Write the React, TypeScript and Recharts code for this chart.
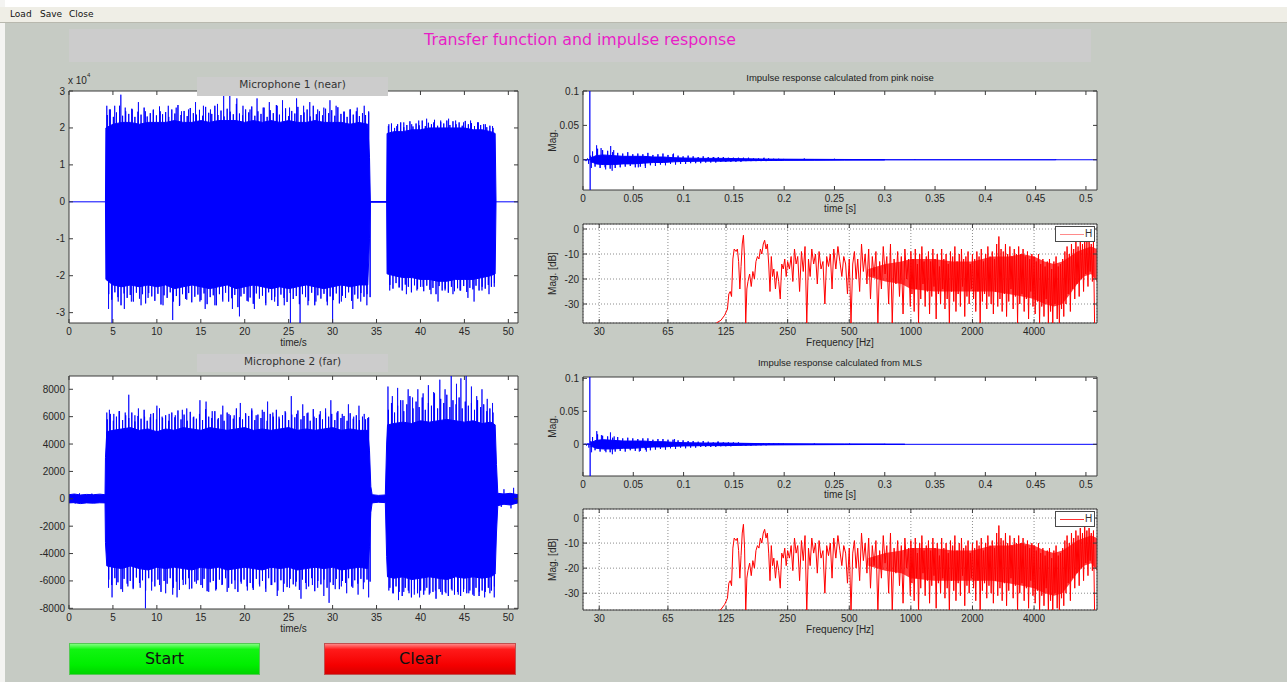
import React from 'react';
import { ComposedChart, Area, Line, XAxis, YAxis, CartesianGrid, ReferenceArea } from 'recharts';

// ---------- Microphone 1 (near), amplitude x 10^4 ----------
const nearT = [4.15, 4.2, 5, 6, 7, 8, 9, 10, 11, 12, 13, 14, 15, 16, 17, 18, 19, 20, 21, 22, 23, 24, 25, 26, 27, 28, 29, 30, 31, 32, 33, 34, 34.2, 34.3,
  36.15, 36.2, 37, 38, 39, 40, 41, 42, 43, 44, 45, 46, 47, 48, 48.5, 48.6];
const nearHi = [0, 2.0, 2.1, 2.15, 2.15, 2.1, 2.15, 2.15, 2.15, 2.2, 2.15, 2.15, 2.2, 2.15, 2.2, 2.2, 2.2, 2.15, 2.2, 2.15, 2.2, 2.15,
  2.2, 2.15, 2.15, 2.2, 2.15, 2.15, 2.15, 2.1, 2.15, 2.1, 1.2, 0,
  0, 1.85, 1.9, 1.9, 1.95, 1.95, 2.0, 2.0, 2.0, 2.0, 2.0, 1.95, 1.95, 1.9, 1.85, 0];
const nearLo = [0, -2.1, -2.25, -2.3, -2.25, -2.3, -2.25, -2.3, -2.25, -2.35, -2.3, -2.25, -2.3, -2.35, -2.3, -2.25, -2.35, -2.3, -2.25, -2.3, -2.35, -2.3,
  -2.35, -2.3, -2.25, -2.3, -2.35, -2.3, -2.25, -2.3, -2.25, -2.25, -1.0, 0,
  0, -1.95, -2.0, -2.05, -2.05, -2.1, -2.1, -2.15, -2.15, -2.1, -2.1, -2.1, -2.05, -2.0, -1.95, 0];
// dense fringe of peaks, one every 0.35 s
const nearFringeStartA = 4.35, nearFringeStartB = 36.35, fringeStep = 0.35;
const nearTopA = [2.35, 2.5, 2.3, 2.42, 2.6, 2.33, 2.45, 2.38, 2.52, 2.3, 2.44, 2.36, 2.55, 2.31, 2.4, 2.48, 2.34, 2.58, 2.37, 2.43,
  2.3, 2.5, 2.39, 2.62, 2.35, 2.46, 2.32, 2.54, 2.4, 2.36, 2.49, 2.33, 2.57, 2.41, 2.38, 2.6, 2.35, 2.47, 2.31, 2.52,
  2.44, 2.37, 2.65, 2.39, 2.34, 2.5, 2.42, 2.58, 2.33, 2.45, 2.38, 2.55, 2.3, 2.48, 2.4, 2.62, 2.36, 2.44, 2.53, 2.32,
  2.46, 2.39, 2.57, 2.35, 2.42, 2.5, 2.31, 2.6, 2.37, 2.45, 2.34, 2.52, 2.4, 2.48, 2.33, 2.56, 2.38, 2.43, 2.3, 2.5,
  2.36, 2.45, 2.32, 2.4, 2.35, 2.42];
const nearBotA = [-2.5, -2.65, -2.45, -2.58, -2.8, -2.48, -2.6, -2.52, -2.7, -2.46, -2.62, -2.5, -2.75, -2.47, -2.56, -2.68, -2.49, -2.78, -2.53, -2.6,
  -2.45, -2.7, -2.55, -2.82, -2.5, -2.63, -2.47, -2.72, -2.57, -2.51, -2.66, -2.48, -2.77, -2.58, -2.53, -2.8, -2.5, -2.64, -2.46, -2.7,
  -2.61, -2.52, -2.85, -2.56, -2.49, -2.68, -2.59, -2.76, -2.48, -2.62, -2.54, -2.74, -2.45, -2.66, -2.57, -2.82, -2.51, -2.6, -2.71, -2.47,
  -2.63, -2.55, -2.77, -2.5, -2.58, -2.68, -2.46, -2.8, -2.53, -2.62, -2.49, -2.7, -2.56, -2.66, -2.48, -2.75, -2.54, -2.6, -2.45, -2.68,
  -2.51, -2.62, -2.47, -2.57, -2.5, -2.58];
const nearTopB = [2.05, 2.12, 2.0, 2.1, 2.15, 2.02, 2.08, 2.18, 2.04, 2.12, 2.07, 2.2, 2.05, 2.14, 2.1, 2.22, 2.06, 2.16, 2.12, 2.2,
  2.08, 2.18, 2.1, 2.15, 2.06, 2.19, 2.1, 2.13, 2.05, 2.15, 2.08, 2.1, 2.02, 2.06, 2.0];
const nearBotB = [-2.25, -2.35, -2.2, -2.32, -2.4, -2.24, -2.3, -2.45, -2.26, -2.36, -2.3, -2.42, -2.27, -2.38, -2.33, -2.5, -2.28, -2.4, -2.35, -2.46,
  -2.3, -2.42, -2.34, -2.4, -2.28, -2.44, -2.33, -2.37, -2.27, -2.4, -2.3, -2.35, -2.25, -2.3, -2.2];
const nearSpikes: [number, number][] = [
  [4.3, 2.6], [4.6, 2.5], [5.2, 2.6], [5.9, 2.9], [6.4, 2.55], [7.2, 2.5], [7.9, 2.7], [8.7, 2.45], [9.6, 2.5], [10.4, 2.45],
  [11.3, 2.6], [12.2, 2.55], [12.8, 2.45], [13.6, 2.5], [14.4, 2.7], [15.3, 2.6], [16.1, 2.5], [16.9, 2.65], [17.6, 3.0], [18.3, 2.9],
  [19.1, 2.8], [19.8, 2.6], [20.6, 2.5], [21.4, 2.8], [22.1, 2.55], [22.8, 2.7], [23.7, 2.6], [24.3, 2.75], [25.1, 2.55], [25.9, 2.8],
  [26.7, 2.6], [27.4, 2.7], [28.3, 2.5], [29.0, 2.55], [29.7, 2.75], [30.4, 2.6], [31.3, 2.45], [32.0, 2.5], [32.8, 2.55], [33.6, 2.6], [34.1, 2.45],
  [36.4, 2.1], [37.3, 2.05], [38.1, 2.15], [39.0, 2.1], [39.8, 2.2], [40.7, 2.25], [41.5, 2.15], [42.3, 2.2], [43.2, 2.25], [44.0, 2.2],
  [44.9, 2.15], [45.7, 2.2], [46.6, 2.15], [47.4, 2.1], [48.2, 2.05],
  [4.5, -2.9], [4.9, -3.3], [5.6, -2.7], [6.3, -2.9], [7.1, -2.7], [8.2, -2.8], [9.0, -2.6], [10.7, -2.8], [11.8, -3.2], [12.6, -2.8],
  [13.4, -2.65], [14.9, -2.7], [15.5, -2.9], [16.6, -2.8], [17.5, -2.7], [18.6, -2.9], [19.4, -3.1], [20.4, -2.7], [21.1, -2.9], [22.4, -2.8],
  [23.4, -2.7], [24.5, -2.8], [25.2, -3.3], [26.3, -3.3], [27.2, -2.8], [28.1, -2.7], [29.4, -2.8], [30.0, -3.3], [31.0, -2.7], [32.3, -2.9],
  [33.2, -2.7], [33.9, -2.8], [36.5, -2.4], [37.6, -2.3], [38.4, -2.5], [39.6, -2.4], [40.3, -2.3], [41.2, -2.5], [42.0, -2.7], [42.8, -2.4],
  [43.7, -2.5], [44.5, -2.4], [45.4, -2.6], [46.1, -2.7], [47.0, -2.4], [47.8, -2.5], [48.4, -2.3],
];

// ---------- Microphone 2 (far) ----------
const farT = [0, 0.6, 1.3, 2.0, 2.8, 3.5, 4.1, 4.15, 4.3,
  5, 6, 7, 8, 9, 10, 11, 12, 13, 14, 15, 16, 17, 18, 19, 20, 21, 22, 23, 24, 25, 26, 27, 28, 29, 30, 31, 32, 33, 34,
  34.2, 34.35, 34.5, 35.2, 36.0, 36.15, 36.25, 37, 38, 39, 40, 41, 42, 43, 44, 45, 46, 47, 48, 48.5, 48.65, 48.8, 49.5, 50.2, 51.1];
const farHi = [300, 350, 280, 320, 300, 340, 300, 3000, 4900,
  5000, 5100, 5200, 5000, 5100, 4900, 5100, 5000, 5200, 5100, 5000, 5200, 5100, 5000, 5100, 5200, 5000, 5100, 5000, 5100,
  5200, 5000, 5100, 5000, 5100, 5200, 5000, 5100, 5000, 5000,
  3500, 900, 300, 250, 280, 4000, 5400, 5500, 5600, 5500, 5700, 5600, 5700, 5800, 5700, 5600, 5700, 5500, 5600, 5400, 2500, 400, 350, 400, 300];
const farLo = [-300, -280, -350, -300, -320, -290, -300, -3200, -4900,
  -5000, -5100, -4900, -5100, -5200, -5000, -5100, -5000, -5100, -5200, -5000, -5100, -5000, -5200, -5100, -5000, -5100, -5200, -5000, -5100,
  -5000, -5200, -5100, -5000, -5100, -5000, -5200, -5100, -5000, -5100,
  -3500, -1000, -300, -250, -280, -4200, -5700, -5800, -5700, -5900, -5800, -5700, -5800, -5900, -5700, -5800, -5700, -5800, -5700, -5500, -2500, -500, -400, -450, -300];
const farTopA = [5800, 6200, 5700, 6000, 6400, 5750, 6100, 5900, 6300, 5650, 6050, 5850, 6500, 5700, 5950, 6250, 5800, 6600, 5900, 6100,
  5700, 6300, 5950, 6450, 5800, 6150, 5700, 6350, 5950, 5850, 6200, 5750, 6550, 6000, 5900, 6400, 5800, 6150, 5700, 6300,
  6100, 5850, 6600, 5950, 5800, 6250, 6050, 6450, 5750, 6150, 5900, 6350, 5700, 6200, 6000, 6500, 5850, 6100, 6300, 5750,
  6150, 5950, 6450, 5800, 6050, 6250, 5700, 6550, 5900, 6150, 5800, 6300, 6000, 6200, 5750, 6400, 5900, 6050, 5700, 6250,
  5850, 6100, 5750, 6000, 5800, 5950];
const farBotA = [-5900, -6300, -5800, -6100, -6600, -5850, -6200, -6000, -6500, -5750, -6150, -5950, -6700, -5800, -6050, -6400, -5900, -6800, -6000, -6200,
  -5800, -6500, -6050, -6650, -5900, -6250, -5800, -6550, -6050, -5950, -6300, -5850, -6750, -6100, -6000, -6600, -5900, -6250, -5800, -6500,
  -6200, -5950, -6800, -6050, -5900, -6400, -6150, -6650, -5850, -6250, -6000, -6550, -5800, -6300, -6100, -6700, -5950, -6200, -6450, -5850,
  -6250, -6050, -6650, -5900, -6150, -6400, -5800, -6750, -6000, -6250, -5900, -6500, -6100, -6300, -5850, -6600, -6000, -6150, -5800, -6400,
  -5950, -6200, -5850, -6100, -5900, -6050];
const farTopB = [6500, 7000, 6300, 6800, 7200, 6400, 6900, 7500, 6600, 7100, 6700, 7400, 6500, 7000, 6800, 7700, 6600, 7300, 7000, 7600,
  6700, 7200, 6900, 7400, 6600, 7100, 6800, 7000, 6500, 7200, 6700, 6900, 6400, 6600, 6300];
const farBotB = [-6500, -6900, -6400, -6800, -7100, -6500, -6700, -7200, -6600, -6900, -6700, -7000, -6500, -6900, -6800, -7300, -6600, -7000, -6800, -7100,
  -6600, -7000, -6800, -7100, -6600, -6900, -6700, -7000, -6500, -7100, -6700, -6800, -6500, -6700, -6400];
const farSpikes: [number, number][] = [
  [1.2, 400], [2.6, 380], [0.7, -350], [49.5, 700], [50.6, 800], [49.2, -600], [50.3, -700],
  [4.3, 6300], [4.6, 6500], [5.1, 6200], [5.7, 6400], [6.4, 6300], [6.8, 7600], [7.5, 6100], [7.9, 6600], [8.6, 6000], [9.3, 6200],
  [10.0, 6800], [10.6, 6000], [11.4, 6200], [12.1, 6100], [12.9, 6500], [13.4, 6600], [14.2, 6000], [14.9, 7200], [15.6, 7100], [16.3, 6400],
  [17.0, 5900], [17.5, 6800], [18.2, 6200], [18.8, 6100], [19.5, 7000], [20.1, 6200], [20.8, 6600], [21.3, 6100], [22.0, 6500], [22.6, 7100],
  [23.2, 6300], [23.9, 6000], [24.6, 6400], [25.3, 7500], [25.9, 6200], [26.6, 6900], [27.2, 6300], [27.9, 6000], [28.6, 6400], [29.2, 6600],
  [29.8, 7200], [30.5, 6300], [31.1, 6200], [31.8, 6900], [32.4, 6000], [33.0, 6800], [33.6, 6200], [34.0, 5900],
  [36.3, 8200], [36.8, 7500], [37.4, 8100], [38.0, 7200], [38.6, 8000], [39.1, 7400], [39.7, 8000], [40.3, 7700], [40.9, 8300], [41.5, 7800],
  [42.2, 8700], [42.8, 8000], [43.5, 9000], [44.1, 8400], [44.6, 8800], [45.2, 9000], [45.8, 8200], [46.4, 7500], [47.0, 8000], [47.6, 7300], [48.2, 7000],
  [4.5, -6500], [4.9, -7200], [5.4, -6300], [6.1, -6800], [6.7, -6400], [7.3, -6600], [8.1, -6500], [8.7, -8000], [9.4, -6700], [10.3, -6300],
  [11.0, -6900], [11.8, -7000], [12.3, -7200], [13.0, -6300], [13.7, -6600], [14.5, -6200], [15.2, -6500], [15.9, -6800], [16.7, -6700], [17.4, -6300],
  [18.0, -6800], [18.9, -6600], [19.6, -6200], [20.3, -6700], [20.9, -6500], [21.7, -6400], [22.4, -6800], [23.0, -6300], [23.7, -7100], [24.4, -6800],
  [25.1, -6500], [25.8, -6400], [26.4, -7300], [27.0, -6600], [27.7, -6300], [28.3, -6500], [29.0, -7100], [29.6, -7600], [30.3, -6600], [31.0, -6400],
  [31.6, -6900], [32.3, -6500], [32.9, -7000], [33.5, -6600], [34.1, -7200],
  [36.4, -6700], [36.9, -6900], [37.5, -7400], [38.1, -6800], [38.7, -6900], [39.3, -7000], [39.9, -7200], [40.5, -6700], [41.0, -7000], [41.7, -6700],
  [42.3, -6800], [42.9, -6900], [43.6, -6700], [44.3, -7000], [44.9, -6800], [45.5, -6900], [46.1, -7100], [46.7, -6800], [47.3, -7200], [47.9, -6900], [48.4, -7200],
];

// ---------- Impulse responses ----------
const irPinkT = [0.0075, 0.01, 0.013, 0.02, 0.03, 0.04, 0.05, 0.06, 0.07, 0.08, 0.09, 0.1, 0.12, 0.14, 0.16, 0.18, 0.2, 0.23, 0.26, 0.3];
const irPinkHi = [0.003, 0.004, 0.006, 0.007, 0.006, 0.005, 0.005, 0.005, 0.004, 0.004, 0.003, 0.0025, 0.002, 0.002, 0.0015, 0.001, 0.0008, 0.0006, 0.0004, 0.0002];
const irPinkLo = [-0.003, -0.004, -0.006, -0.007, -0.007, -0.006, -0.006, -0.005, -0.004, -0.004, -0.003, -0.0025, -0.002, -0.002, -0.0015, -0.001, -0.0008, -0.0006, -0.0004, -0.0002];
// peaks every 2.5 ms from 9.5 ms
const irFringeStart = 0.0095, irFringeStep = 0.0025;
const irPinkFringe = [0.012, -0.01, 0.016, -0.012, 0.014, -0.011, 0.013, -0.013, 0.011, -0.012, 0.01, -0.011, 0.009, -0.01, 0.011, -0.009,
  0.008, -0.011, 0.009, -0.01, 0.008, -0.009, 0.01, -0.008, 0.007, -0.009, 0.008, -0.007, 0.009, -0.008, 0.007, -0.006, 0.008, -0.007,
  0.006, -0.006, 0.005, -0.006, 0.006, -0.005, 0.005, -0.005, 0.004, -0.005, 0.005, -0.004, 0.004, -0.004, 0.004, -0.004, 0.004, -0.003,
  0.004, -0.003, 0.003, -0.003, 0.003, -0.003, 0.003, -0.003, 0.003, -0.002, 0.003, -0.002, 0.002, -0.002, 0.002, -0.002, 0.002, -0.002,
  0.002, -0.0015, 0.0015, -0.0015, 0.0015, -0.001, 0.0012];
const irPinkSpikes: [number, number][] = [
  [0.0015, 0.001], [0.003, -0.002], [0.0045, 0.002], [0.0055, -0.006], [0.0068, 0.12], [0.0071, -0.044], [0.0076, 0.006], [0.0083, -0.012],
  [0.0135, 0.021], [0.018, 0.017], [0.0225, -0.014], [0.0275, 0.02], [0.029, -0.016], [0.0305, 0.014], [0.055, -0.011], [0.062, -0.012],
  [0.09, 0.009], [0.13, 0.004], [0.18, 0.003], [0.22, 0.002], [0.25, 0.0015], [0.28, 0.001], [0.33, 0.0008], [0.47, 0.0009],
];
const irMlsT = [0.0075, 0.01, 0.013, 0.02, 0.03, 0.04, 0.05, 0.06, 0.07, 0.08, 0.09, 0.1, 0.12, 0.14, 0.16, 0.18, 0.2, 0.23, 0.26, 0.3, 0.32];
const irMlsHi = [0.003, 0.004, 0.006, 0.007, 0.006, 0.005, 0.005, 0.005, 0.004, 0.004, 0.003, 0.0025, 0.002, 0.002, 0.0015, 0.001, 0.0008, 0.0006, 0.0004, 0.0002, 0];
const irMlsLo = [-0.003, -0.004, -0.006, -0.007, -0.007, -0.006, -0.006, -0.005, -0.004, -0.004, -0.003, -0.0025, -0.002, -0.002, -0.0015, -0.001, -0.0008, -0.0006, -0.0004, -0.0002, 0];
const irMlsFringe = [0.011, -0.009, 0.015, -0.011, 0.013, -0.01, 0.012, -0.012, 0.01, -0.011, 0.011, -0.01, 0.009, -0.011, 0.01, -0.009,
  0.009, -0.01, 0.008, -0.01, 0.009, -0.008, 0.009, -0.009, 0.007, -0.008, 0.008, -0.007, 0.008, -0.008, 0.007, -0.006, 0.007, -0.007,
  0.006, -0.005, 0.006, -0.006, 0.005, -0.005, 0.005, -0.005, 0.004, -0.004, 0.005, -0.004, 0.004, -0.004, 0.003, -0.004, 0.004, -0.003,
  0.003, -0.003, 0.003, -0.003, 0.003, -0.002, 0.003, -0.002, 0.002, -0.002, 0.002, -0.002, 0.002, -0.0015, 0.002, -0.0015, 0.0015, -0.0015,
  0.0015, -0.001, 0.0012, -0.001, 0.001, -0.001, 0.001];
const irMlsSpikes: [number, number][] = [
  [0.002, 0.001], [0.0035, -0.002], [0.005, 0.002], [0.0058, -0.005], [0.0068, 0.12], [0.0071, -0.048], [0.0077, 0.005], [0.0085, -0.012],
  [0.0137, 0.02], [0.0183, 0.014], [0.0228, -0.012], [0.0273, 0.018], [0.0292, -0.015], [0.031, 0.012], [0.056, -0.011], [0.063, -0.011],
  [0.091, 0.008], [0.134, 0.004], [0.185, 0.002], [0.23, 0.0015], [0.265, 0.0012], [0.3, 0.0008],
];

// ---------- Transfer function H (dB over Hz) ----------
const hLow: [number, number][] = [
  [112, -37.6], [118, -36.5], [123, -34.5], [127, -32], [129, -26], [131, -25], [133, -27], [135, -12], [137, -8], [140, -9], [142, -8],
  [144, -13], [146, -24], [148, -15], [150, -6], [152, -2.5], [154, -12], [156, -37.6], [158, -24], [160, -21], [163, -18], [166, -23],
  [169, -17], [172, -20], [175, -13], [178, -11], [181, -12], [184, -8], [187, -10], [190, -6], [193, -4.5], [196, -8], [199, -6],
  [202, -14], [205, -25], [208, -11], [211, -19], [214, -16], [218, -24], [222, -17], [226, -21], [230, -28], [234, -14], [238, -16],
  [242, -12], [246, -19], [250, -13], [255, -16], [260, -11], [265, -21], [270, -8], [275, -14], [280, -11], [286, -25], [292, -9],
  [298, -17], [304, -7], [310, -37.6], [316, -12], [322, -19], [328, -8], [335, -14], [342, -10], [349, -22], [356, -9], [364, -16],
  [372, -13], [380, -30], [388, -11], [396, -15], [404, -10], [412, -24], [420, -8], [430, -16], [440, -7], [450, -13], [460, -19],
  [470, -11], [480, -14], [490, -26], [500, -12],
  [510, -37.6], [520, -14], [530, -9], [540, -20], [550, -12], [562, -25], [574, -6], [586, -17], [598, -10], [610, -22], [622, -8],
  [635, -28], [648, -11], [661, -19], [675, -9], [690, -37.6], [704, -13], [718, -24], [733, -7], [748, -18], [763, -11], [779, -30],
  [795, -6], [811, -37.6], [828, -12], [845, -22], [862, -9], [880, -27], [898, -11], [916, -34], [935, -8], [954, -20], [974, -12], [994, -31],
];
// from 1 kHz upward: 56 bins per octave
const hHighStart = 1000, hHighPerOct = 56;
const hHighDb = [
  -9, -26, -12, -33, -8, -24, -14, -37.6, -10, -28, -7, -22, -13, -31,
  -11, -25, -9, -34, -13, -27, -8, -23, -12, -36, -10, -26, -15, -30,
  -8, -24, -12, -32, -10, -28, -14, -37.6, -9, -25, -11, -29, -7, -33,
  -13, -26, -10, -31, -8, -23, -12, -35, -11, -27, -9, -30, -14, -24,
  -10, -28, -12, -33, -9, -25, -11, -37.6, -8, -29, -13, -26, -10, -32,
  -7, -27, -11, -30, -9, -34, -12, -25, -6, -31, -3, -28, -8, -33,
  -9, -26, -6, -35, -10, -29, -7, -24, -11, -32, -8, -27, -10, -37.6,
  -7, -30, -10, -26, -8, -33, -11, -28, -9, -36, -12, -25, -10, -31,
  -11, -34, -13, -29, -10, -37.6, -14, -31, -12, -35, -15, -28, -13, -37.6,
  -12, -33, -16, -37.6, -13, -30, -11, -36, -15, -37.6, -14, -32, -12, -35,
  -9, -30, -7, -26, -10, -33, -6, -24, -8, -28, -5, -22, -7, -27,
  -4, -20, -6, -25, -3, -18, -5, -23, -4, -17, -6, -21, -5, -37.6,
];
// densely filled part of the spectrum
const hCoreF = [620, 750, 900, 1000, 1300, 1600, 2000, 2500, 3000, 3500, 4000, 4500, 5000, 5500, 6000, 6500, 7000, 7600, 8120];
const hCoreHi = [-16, -14, -13, -12, -12, -13, -13, -11, -11, -10, -11, -13, -14, -13, -11, -9, -8, -7, -8];
const hCoreLo = [-19, -21, -22, -24, -25, -25, -25, -25, -26, -27, -28, -30, -31, -30, -26, -22, -19, -18, -21];

const secTicks = [0, 5, 10, 15, 20, 25, 30, 35, 40, 45, 50];
const irTicks = [0, 0.05, 0.1, 0.15, 0.2, 0.25, 0.3, 0.35, 0.4, 0.45, 0.5];
const hzTicks = [30, 65, 125, 250, 500, 1000, 2000, 4000];
const nearYTicks = [-3, -2, -1, 0, 1, 2, 3];
const farYTicks = [-8000, -6000, -4000, -2000, 0, 2000, 4000, 6000, 8000];
const irYTicks = [0, 0.05, 0.1];
const dbTicks = [-30, -20, -10, 0];

// ---------- helpers ----------
type Box = { x: number; y: number; w: number; h: number };
const ML = 56, MT = 10, MR = 10, XH = 36;
const AX = '#3a3a3a';
const TXT = '#262626';
const AXFONT = '"Liberation Sans", Arial, sans-serif';
const UIFONT = '"DejaVu Sans", sans-serif';
const BLUE = '#0000ff';
const RED = '#ff0000';

const band = (t: number[], lo: number[], hi: number[]) => t.map((x, i) => ({ t: x, r: [lo[i], hi[i]] }));
const spikes = (s: [number, number][]) =>
  [...s].sort((a, b) => a[0] - b[0]).flatMap(([t, v]) => [{ t, v: 0 }, { t, v }, { t, v: 0 }]);
const onGrid = (start: number, step: number, vals: number[]): [number, number][] => vals.map((v, i) => [start + i * step, v]);
const pairs = (s: [number, number][]) => s.map(([t, v]) => ({ t, v }));

const nearFringe = [
  ...onGrid(nearFringeStartA, fringeStep, nearTopA), ...onGrid(nearFringeStartA + 0.17, fringeStep, nearBotA),
  ...onGrid(nearFringeStartB, fringeStep, nearTopB), ...onGrid(nearFringeStartB + 0.17, fringeStep, nearBotB),
];
const farFringe = [
  ...onGrid(nearFringeStartA, fringeStep, farTopA), ...onGrid(nearFringeStartA + 0.17, fringeStep, farBotA),
  ...onGrid(nearFringeStartB, fringeStep, farTopB), ...onGrid(nearFringeStartB + 0.17, fringeStep, farBotB),
];
const hHigh: [number, number][] = hHighDb.map((v, i) => [hHighStart * 2 ** (i / hHighPerOct), v]);
const hAll = pairs([...hLow, ...hHigh]);

const makeXTick = (box: Box) => (p: any) => (
  <g>
    <line x1={p.x} x2={p.x} y1={MT + box.h} y2={MT + box.h - 4} stroke={AX} />
    <line x1={p.x} x2={p.x} y1={MT} y2={MT + 4} stroke={AX} />
    <text x={p.x} y={MT + box.h + 12} textAnchor="middle" fontSize={10} fill={TXT} fontFamily={AXFONT}>
      {String(p.payload.value)}
    </text>
  </g>
);
const makeYTick = (box: Box) => (p: any) => (
  <g>
    <line x1={ML} x2={ML + 4} y1={p.y} y2={p.y} stroke={AX} />
    <line x1={ML + box.w - 4} x2={ML + box.w} y1={p.y} y2={p.y} stroke={AX} />
    <text x={ML - 4} y={p.y + 3.5} textAnchor="end" fontSize={10} fill={TXT} fontFamily={AXFONT}>
      {String(p.payload.value)}
    </text>
  </g>
);

const XTitle = ({ viewBox, text, dy }: any) =>
  viewBox ? (
    <text x={viewBox.x + viewBox.width / 2} y={viewBox.y + dy} textAnchor="middle" fontSize={10} fill={TXT} fontFamily={AXFONT}>
      {text}
    </text>
  ) : null;
const YTitle = ({ viewBox, text }: any) => {
  if (!viewBox) return null;
  const cx = viewBox.x + viewBox.width - 27;
  const cy = viewBox.y + viewBox.height / 2;
  return (
    <text x={cx} y={cy} transform={`rotate(-90 ${cx} ${cy})`} textAnchor="middle" fontSize={10} fill={TXT} fontFamily={AXFONT}>
      {text}
    </text>
  );
};

interface PlotProps {
  box: Box;
  xDomain: [number, number];
  yDomain: [number, number];
  xTicks: number[];
  yTicks: number[];
  xLog?: boolean;
  grid?: boolean;
  xLabel: string;
  xLabelDy: number;
  yLabel?: string;
  children: React.ReactNode;
}

const Plot: React.FC<PlotProps> = ({ box, xDomain, yDomain, xTicks, yTicks, xLog, grid, xLabel, xLabelDy, yLabel, children }) => (
  <div style={{ position: 'absolute', left: box.x - ML, top: box.y - MT }}>
    <ComposedChart width={box.w + ML + MR} height={box.h + MT + XH} margin={{ top: MT, right: MR, bottom: 0, left: 0 }}>
      <CartesianGrid fill="#ffffff" horizontal={!!grid} vertical={!!grid} stroke="#8c8c8c" strokeDasharray="1 2" />
      <XAxis dataKey="t" type="number" scale={xLog ? 'log' : 'linear'} domain={xDomain} ticks={xTicks} interval={0}
        allowDataOverflow height={XH} tickSize={0} tickMargin={0} axisLine={false} tickLine={false} tick={makeXTick(box)}
        label={<XTitle text={xLabel} dy={xLabelDy} />} />
      <YAxis type="number" domain={yDomain} ticks={yTicks} interval={0} allowDataOverflow width={ML} tickSize={0} tickMargin={0}
        axisLine={false} tickLine={false} tick={makeYTick(box)} label={yLabel ? <YTitle text={yLabel} /> : undefined} />
      {children}
      <ReferenceArea x1={xDomain[0]} x2={xDomain[1]} y1={yDomain[0]} y2={yDomain[1]} fill="none" stroke={AX} strokeWidth={1} ifOverflow="visible" />
    </ComposedChart>
  </div>
);

const nearBox: Box = { x: 69, y: 91, w: 449, h: 232 };
const farBox: Box = { x: 69, y: 376, w: 449, h: 233 };
const irPinkBox: Box = { x: 583, y: 91, w: 514, h: 99 };
const hPinkBox: Box = { x: 583, y: 224, w: 514, h: 99 };
const irMlsBox: Box = { x: 583, y: 377, w: 514, h: 99 };
const hMlsBox: Box = { x: 583, y: 509, w: 514, h: 101 };

const gray = '#cccccc';

const HLegend: React.FC<{ left: number; top: number; color: string }> = ({ left, top, color }) => (
  <div style={{ position: 'absolute', left, top, width: 40, height: 16, background: '#fff', border: '1px solid #4a4a4a', boxSizing: 'border-box' }}>
    <div style={{ position: 'absolute', left: 4, top: 7, width: 24, height: 1, background: color }} />
    <div style={{ position: 'absolute', left: 29, top: 1, fontSize: 10, fontFamily: AXFONT, color: '#333' }}>H</div>
  </div>
);

const wave = (core: any[], fringe: any[], sp: any[], xmax: number) => [
  <Line key="zero" data={[{ t: 0, v: 0 }, { t: xmax, v: 0 }]} dataKey="v" stroke={BLUE} strokeWidth={1} dot={false} activeDot={false} isAnimationActive={false} />,
  <Area key="core" data={core} dataKey="r" type="linear" stroke={BLUE} strokeWidth={1} fill={BLUE} fillOpacity={1} dot={false} activeDot={false} isAnimationActive={false} />,
  <Line key="fringe" data={fringe} dataKey="v" stroke={BLUE} strokeWidth={1} dot={false} activeDot={false} isAnimationActive={false} />,
  <Line key="spk" data={sp} dataKey="v" stroke={BLUE} strokeOpacity={0.8} strokeWidth={1} dot={false} activeDot={false} isAnimationActive={false} />,
];

const freq = () => [
  <Area key="core" data={band(hCoreF, hCoreLo, hCoreHi)} dataKey="r" type="linear" stroke="none" fill={RED} fillOpacity={0.75} dot={false} activeDot={false} isAnimationActive={false} />,
  <Line key="h" data={hAll} dataKey="v" stroke={RED} strokeWidth={1} dot={false} activeDot={false} isAnimationActive={false} />,
];

export default function App() {
  return (
    <div style={{ position: 'absolute', left: 0, top: 0, width: 1287, height: 682, background: '#c6cbc4', overflow: 'hidden', fontFamily: UIFONT }}>
      <div style={{ position: 'absolute', left: 0, top: 0, width: 1287, height: 7, background: '#ffffff' }} />
      <div style={{ position: 'absolute', left: 0, top: 0, width: 5, height: 682, background: '#f4f4f2' }} />
      <div style={{ position: 'absolute', left: 0, top: 7, width: 1287, height: 15, background: '#efeee6', borderBottom: '1px solid #b8b8ae' }}>
        {['Load', 'Save', 'Close'].map((m, i) => (
          <span key={m} style={{ position: 'absolute', left: [10, 40, 69][i], top: 2, fontSize: 9, color: '#111' }}>{m}</span>
        ))}
      </div>

      <div style={{ position: 'absolute', left: 69, top: 29, width: 1022, height: 33, background: gray, textAlign: 'center' }}>
        <div style={{ marginTop: 1, fontSize: 15.8, color: '#e81ec6' }}>Transfer function and impulse response</div>
      </div>

      <Plot box={nearBox} xDomain={[0, 51.1]} yDomain={[-3.28, 3]} xTicks={secTicks} yTicks={nearYTicks} xLabel="time/s" xLabelDy={22.5}>
        {wave(band(nearT, nearLo, nearHi), spikes(nearFringe), spikes(nearSpikes), 51.1)}
      </Plot>
      <div style={{ position: 'absolute', left: 68, top: 75, fontSize: 10, fontFamily: AXFONT, color: TXT }}>
        x 10<sup style={{ fontSize: 6, verticalAlign: 'top', position: 'relative', top: -3 }}>4</sup>
      </div>
      <div style={{ position: 'absolute', left: 197, top: 77, width: 191, height: 19, background: gray, textAlign: 'center', fontSize: 10.5, lineHeight: '15px', color: '#333' }}>
        Microphone 1 (near)
      </div>

      <Plot box={farBox} xDomain={[0, 51.1]} yDomain={[-8050, 8970]} xTicks={secTicks} yTicks={farYTicks} xLabel="time/s" xLabelDy={22.5}>
        {wave(band(farT, farLo, farHi), spikes(farFringe), spikes(farSpikes), 51.1)}
      </Plot>
      <div style={{ position: 'absolute', left: 197, top: 354, width: 191, height: 18, background: gray, textAlign: 'center', fontSize: 10.5, lineHeight: '15px', color: '#333' }}>
        Microphone 2 (far)
      </div>

      <div style={{ position: 'absolute', left: 583, top: 72, width: 514, textAlign: 'center', fontSize: 9.5, fontFamily: AXFONT, color: '#222' }}>
        Impulse response calculated from pink noise
      </div>
      <Plot box={irPinkBox} xDomain={[0, 0.511]} yDomain={[-0.044, 0.1]} xTicks={irTicks} yTicks={irYTicks} xLabel="time [s]" xLabelDy={22} yLabel="Mag.">
        {wave(band(irPinkT, irPinkLo, irPinkHi), spikes(onGrid(irFringeStart, irFringeStep, irPinkFringe)), spikes(irPinkSpikes), 0.511)}
      </Plot>

      <Plot box={hPinkBox} xDomain={[25, 8120]} yDomain={[-37.6, 2]} xTicks={hzTicks} yTicks={dbTicks} xLog grid xLabel="Frequency [Hz]" xLabelDy={22.5} yLabel="Mag. [dB]">
        {freq()}
      </Plot>
      <HLegend left={1055} top={226} color="#ff8a8a" />

      <div style={{ position: 'absolute', left: 583, top: 357, width: 514, textAlign: 'center', fontSize: 9.5, fontFamily: AXFONT, color: '#222' }}>
        Impulse response calculated from MLS
      </div>
      <Plot box={irMlsBox} xDomain={[0, 0.511]} yDomain={[-0.048, 0.102]} xTicks={irTicks} yTicks={irYTicks} xLabel="time [s]" xLabelDy={22} yLabel="Mag.">
        {wave(band(irMlsT, irMlsLo, irMlsHi), spikes(onGrid(irFringeStart, irFringeStep, irMlsFringe)), spikes(irMlsSpikes), 0.511)}
      </Plot>

      <Plot box={hMlsBox} xDomain={[25, 8120]} yDomain={[-36.7, 3.6]} xTicks={hzTicks} yTicks={dbTicks} xLog grid xLabel="Frequency [Hz]" xLabelDy={22.5} yLabel="Mag. [dB]">
        {freq()}
      </Plot>
      <HLegend left={1055} top={511} color="#ff3030" />

      <div style={{ position: 'absolute', left: 69, top: 643, width: 191, height: 32, boxSizing: 'border-box', border: '1px solid #55c855',
        background: 'linear-gradient(#7dff7d 0%, #11f511 18%, #00ee00 70%, #00d400 100%)', textAlign: 'center', lineHeight: '30px', fontSize: 16, color: '#111' }}>
        Start
      </div>
      <div style={{ position: 'absolute', left: 324, top: 643, width: 192, height: 32, boxSizing: 'border-box', border: '1px solid #c05050',
        background: 'linear-gradient(#ff8585 0%, #ff1a1a 18%, #f50000 70%, #d80000 100%)', textAlign: 'center', lineHeight: '30px', fontSize: 16, color: '#111' }}>
        Clear
      </div>
    </div>
  );
}
